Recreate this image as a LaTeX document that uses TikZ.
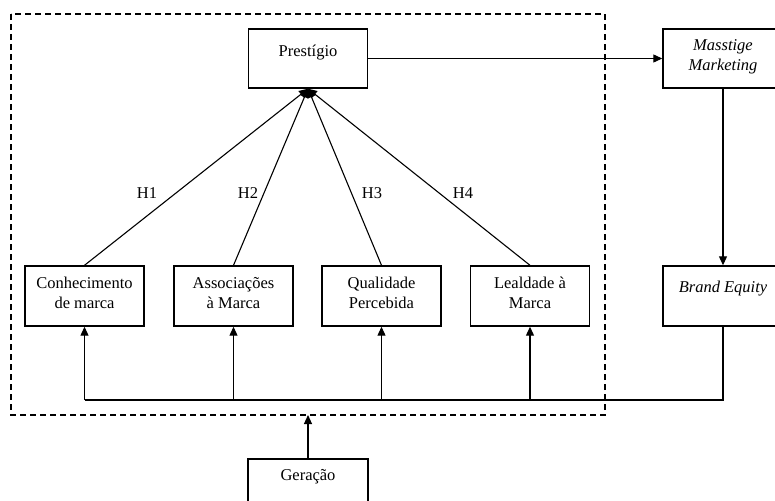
\documentclass[tikz,border=0pt]{standalone}
\usepackage{fontspec}
\setmainfont{Liberation Serif}
\usetikzlibrary{arrows.meta}
\begin{document}
\begin{tikzpicture}[x=1pt,y=-1pt,
  box/.style={draw,line width=1.4pt,minimum width=119pt,minimum height=59pt,inner sep=0pt},
  lbl/.style={font=\fontsize{16.5}{20}\selectfont,align=center,inner sep=0pt},
  conn/.style={line width=1.1pt},
  arr/.style={conn,-{Triangle[length=9pt,width=8pt]}},
  frame/.style={line width=1.4pt,dash pattern=on 6pt off 4pt}]
\useasboundingbox (0,0) rectangle (775,500);
\draw[frame] (11,14) rectangle (605,415);
\node[box] (pr) at (308,58.5) {};
\node[lbl] at ([yshift=5.5pt]pr.center) {Prestígio};
\node[box,minimum width=120pt] (mm) at (723,58.5) {};
\node[lbl] at ([yshift=1.5pt]mm.center) {\itshape Masstige\\\itshape Marketing};
\node[box,minimum width=120pt,minimum height=60pt] (be) at (723,296) {};
\node[lbl] at ([yshift=7pt]be.center) {\itshape Brand Equity};
\node[box,minimum height=60pt] (cm) at (84.5,296) {};
\node[lbl] at ([yshift=3pt]cm.center) {Conhecimento\\de marca};
\node[box,minimum height=60pt] (am) at (233.5,296) {};
\node[lbl] at ([yshift=3pt]am.center) {Associações\\à Marca};
\node[box,minimum height=60pt] (qp) at (381.5,296) {};
\node[lbl] at ([yshift=3pt]qp.center) {Qualidade\\Percebida};
\node[box,minimum height=60pt] (lm) at (530,296) {};
\node[lbl] at ([yshift=3pt]lm.center) {Lealdade à\\Marca};
\node[box,minimum width=120pt,minimum height=60pt] (ge) at (308,489) {};
\node[lbl] at (308,477) {Geração};
% hypotheses
\draw[arr] (cm.north) -- (pr.south);
\draw[arr] (am.north) -- (pr.south);
\draw[arr] (qp.north) -- (pr.south);
\draw[arr] (lm.north) -- (pr.south);
\node[lbl] (h1) at (147,193) {H1};
\node[lbl] (h2) at (248,193) {H2};
\node[lbl] (h3) at (372,193) {H3};
\node[lbl] (h4) at (463,193) {H4};
% right chain
\draw[arr] (pr.east) -- (mm.west);
\draw[arr] (mm.south) -- (be.north);
% bus
\coordinate (b0) at (84.5,400);
\coordinate (b1) at (233.5,400);
\coordinate (b2) at (381.5,400);
\coordinate (b3) at (530,400);
\coordinate (b4) at (723,400);
\draw[conn] (be.south) -- (b4) -- (b0);
\draw[arr] (b0) -- (cm.south);
\draw[arr] (b1) -- (am.south);
\draw[arr] (b2) -- (qp.south);
\draw[arr] (b3) -- (lm.south);
\coordinate (fb) at (308,415);
\draw[arr] (ge.north) -- (fb);
\end{tikzpicture}
\end{document}
